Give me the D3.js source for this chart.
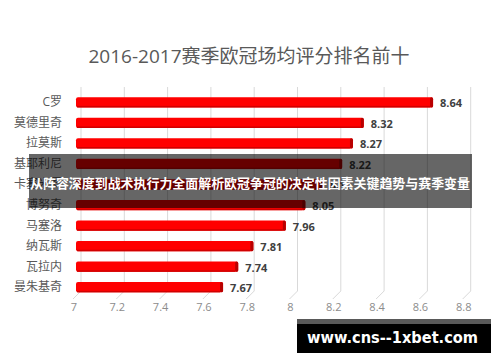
<!DOCTYPE html>
<html>
<head>
<meta charset="utf-8">
<script src="https://cdn.jsdelivr.net/npm/d3@7"></script>
<style>
  body { margin: 0; background: #fff; }
  svg { display: block; }
</style>
</head>
<body>
<svg id="chart" width="500" height="362"></svg>
<script>
// data
const players = ["C罗", "莫德里奇", "拉莫斯", "基耶利尼", "卡塞米罗", "博努奇", "马塞洛", "纳瓦斯", "瓦拉内", "曼朱基奇"];
const ratings = [8.64, 8.32, 8.27, 8.22, 8.13, 8.05, 7.96, 7.81, 7.74, 7.67];
const ticks = [7, 7.2, 7.4, 7.6, 7.8, 8, 8.2, 8.4, 8.6, 8.8];

const cjk = "'Open Sans', 'Noto Sans CJK SC', sans-serif";
const svg = d3.select("#chart");

const x = d3.scaleLinear().domain([7, 8.8]).range([78, 467.7]);
const y = d3.scaleBand().domain(players).range([92, 297.5]).paddingInner(0.5).paddingOuter(0.25);

// title
svg.append("text")
  .attr("x", 249).attr("y", 63)
  .attr("text-anchor", "middle")
  .style("font-family", cjk).style("font-size", "19px")
  .attr("fill", "#595959")
  .text("2016-2017赛季欧冠场均评分排名前十");

// grid (back wall + floor slant)
const grid = svg.append("g");
ticks.forEach(t => {
  grid.append("path")
    .attr("d", `M${x(t) + 3},87 V291 L${x(t) - 5},299`)
    .attr("fill", "none")
    .attr("stroke", "#d9d9d9")
    .attr("stroke-width", 1);
});

// tick labels
svg.append("g").selectAll("text")
  .data(ticks).enter().append("text")
  .attr("x", d => x(d) - 4)
  .attr("y", 311)
  .attr("text-anchor", "middle")
  .style("font-family", cjk).style("font-size", "11px")
  .attr("fill", "#8c8c8c")
  .text(d => d);

// category labels
svg.append("g").selectAll("text")
  .data(players).enter().append("text")
  .attr("x", 62)
  .attr("y", d => y(d) + y.bandwidth() / 2 + 4)
  .attr("text-anchor", "end")
  .style("font-family", cjk).style("font-size", "12px")
  .attr("fill", "#595959")
  .text(d => d);

// bars
const rows = players.map((p, i) => ({ name: p, v: ratings[i] }));
const bar = svg.append("g").selectAll("g")
  .data(rows).enter().append("g");

bar.append("rect")
  .attr("x", x(7) - 2)
  .attr("y", d => y(d.name))
  .attr("width", d => x(d.v) - x(7) + 2)
  .attr("height", y.bandwidth())
  .attr("rx", 2)
  .attr("fill", "#ff0000");

bar.append("rect")
  .attr("x", d => x(d.v) - 3)
  .attr("y", d => y(d.name))
  .attr("width", 3)
  .attr("height", y.bandwidth())
  .attr("rx", 1.5)
  .attr("fill", "#b80000");

bar.append("rect")
  .attr("x", x(7) - 1)
  .attr("y", d => y(d.name) + y.bandwidth() - 1.5)
  .attr("width", d => x(d.v) - x(7) - 2)
  .attr("height", 1.5)
  .attr("fill", "#d00000");

bar.append("text")
  .attr("x", d => x(d.v) + 7)
  .attr("y", d => y(d.name) + y.bandwidth() / 2 + 5)
  .style("font-family", "'Open Sans', sans-serif")
  .style("font-size", "11px").style("font-weight", "bold")
  .attr("fill", "#404040")
  .text(d => d.v.toFixed(2));

// banner overlay
svg.append("rect")
  .attr("x", 29).attr("y", 154)
  .attr("width", 443).attr("height", 54)
  .attr("fill", "rgba(0,0,0,0.6)");
svg.append("text")
  .attr("x", 30).attr("y", 188)
  .attr("textLength", 440).attr("lengthAdjust", "spacingAndGlyphs")
  .style("font-family", "'Noto Sans CJK SC', sans-serif")
  .style("font-size", "13px").style("font-weight", "bold")
  .attr("fill", "#fff")
  .text("从阵容深度到战术执行力全面解析欧冠争冠的决定性因素关键趋势与赛季变量");

// watermark
svg.append("rect")
  .attr("x", 297).attr("y", 319).attr("width", 194).attr("height", 34)
  .attr("fill", "#000");
svg.append("rect")
  .attr("x", 297).attr("y", 319).attr("width", 194).attr("height", 5)
  .attr("fill", "#595959");
svg.append("text")
  .attr("x", 307).attr("y", 343)
  .attr("textLength", 171).attr("lengthAdjust", "spacingAndGlyphs")
  .style("font-family", "'DejaVu Sans', sans-serif")
  .style("font-size", "16px").style("font-weight", "bold")
  .attr("fill", "#fff")
  .text("www.cns--1xbet.com");
</script>
</body>
</html>
